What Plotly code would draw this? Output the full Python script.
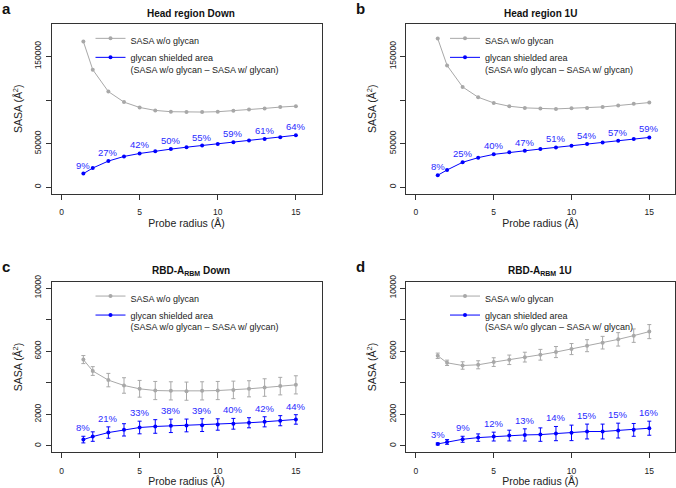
import plotly.graph_objects as go

# ---------------- data ----------------
radius = [1.4, 2, 3, 4, 5, 6, 7, 8, 9, 10, 11, 12, 13, 14, 15]
pct_radius = [1.4, 3, 5, 7, 9, 11, 13, 15]

a_nogly = [167100, 134800, 109700, 97600, 91500, 88100, 86600, 86200, 86200, 86600, 87700, 89200, 90400, 91900, 93000]
a_shield = [15600, 22000, 30000, 35300, 38700, 41400, 43700, 45900, 47800, 49700, 51600, 53500, 55400, 57300, 59600]
a_pct = ["9%", "27%", "42%", "50%", "55%", "59%", "61%", "64%"]

b_nogly = [170500, 139700, 115000, 103200, 96700, 92900, 91000, 90200, 89800, 90600, 91000, 92100, 93700, 95600, 97100]
b_shield = [13700, 19800, 28600, 33900, 37700, 40000, 41900, 43800, 45700, 47600, 49500, 51400, 53300, 55200, 57100]
b_pct = ["8%", "25%", "40%", "47%", "51%", "54%", "57%", "59%"]

c_nogly = [5470, 4745, 4170, 3830, 3620, 3510, 3490, 3470, 3490, 3510, 3550, 3620, 3700, 3790, 3870]
c_nogly_sd = [255, 277, 425, 490, 530, 575, 575, 575, 575, 575, 555, 510, 555, 555, 575]
c_shield = [405, 595, 850, 1020, 1170, 1235, 1275, 1300, 1320, 1360, 1405, 1470, 1530, 1600, 1680]
c_shield_sd = [210, 300, 360, 390, 400, 430, 425, 405, 405, 360, 340, 320, 320, 320, 300]
c_pct = ["8%", "21%", "33%", "38%", "39%", "40%", "42%", "44%"]

d_nogly = [5710, 5265, 5095, 5140, 5310, 5455, 5625, 5775, 5945, 6135, 6350, 6540, 6750, 6985, 7240]
d_nogly_sd = [170, 170, 235, 255, 275, 300, 310, 340, 350, 350, 380, 400, 425, 425, 445]
d_shield = [130, 255, 425, 530, 595, 660, 700, 720, 785, 830, 915, 915, 975, 1020, 1125]
d_shield_sd = [60, 150, 190, 235, 280, 340, 385, 425, 450, 490, 470, 470, 470, 405, 445]
d_pct = ["3%", "9%", "12%", "13%", "14%", "15%", "15%", "16%"]

titles = ["Head region Down", "Head region 1U", "RBD-A<sub>RBM</sub> Down", "RBD-A<sub>RBM</sub> 1U"]
letters = ["a", "b", "c", "d"]
head_ticks = [0, 50000, 150000]
head_minor = [100000]
rbd_ticks = [0, 2000, 6000, 10000]
rbd_minor = [4000, 8000]
x_ticks = [0, 5, 10, 15]

# ---------------- style ----------------
W, H = 676, 488
FONT = "Liberation Sans, Arial, sans-serif"
GRAY = "#a8a8a8"
BLUE = "#0000ff"
LABEL_BLUE = "#2a2aff"
AXC = "#333333"

# panel boxes in pixels: (left, right, top, bottom)
boxes = [(51.5, 321.5, 24, 193.5), (406, 674.8, 24, 193.5),
         (51.5, 321.5, 281.7, 452.3), (406, 674.8, 281.7, 452.3)]

panels = [
    (a_nogly, None, a_shield, None, a_pct, head_ticks, head_minor, [-7200, 187200]),
    (b_nogly, None, b_shield, None, b_pct, head_ticks, head_minor, [-7200, 187200]),
    (c_nogly, c_nogly_sd, c_shield, c_shield_sd, c_pct, rbd_ticks, rbd_minor, [-400, 10400]),
    (d_nogly, d_nogly_sd, d_shield, d_shield_sd, d_pct, rbd_ticks, rbd_minor, [-400, 10400]),
]

fig = go.Figure()
annotations = []
layout = {}

for i, (nog, nog_sd, sh, sh_sd, pct, yt, ym, yr) in enumerate(panels):
    n = "" if i == 0 else str(i + 1)
    xa, ya = "x" + n, "y" + n
    lg = "legend" + n
    L, R, T, B = boxes[i]

    def err(sd, color):
        if sd is None:
            return None
        return dict(type="data", array=sd, visible=True, color=color, thickness=1, width=2)

    fig.add_trace(go.Scatter(
        x=radius, y=nog, mode="lines+markers", name="SASA w/o glycan",
        line=dict(color=GRAY, width=1), marker=dict(color=GRAY, size=4),
        error_y=err(nog_sd, GRAY), xaxis=xa, yaxis=ya, legend=lg))
    fig.add_trace(go.Scatter(
        x=radius, y=sh, mode="lines+markers",
        name="glycan shielded area<br>(SASA w/o glycan \u2013 SASA w/ glycan)",
        line=dict(color=BLUE, width=1), marker=dict(color=BLUE, size=4),
        error_y=err(sh_sd, BLUE), xaxis=xa, yaxis=ya, legend=lg))

    axis_common = dict(showline=True, mirror=True, linecolor=AXC, linewidth=1,
                       ticks="outside", ticklen=5, tickcolor=AXC, tickwidth=1,
                       showgrid=False, zeroline=False,
                       tickfont=dict(family=FONT, size=8.5, color="#222"))
    layout["xaxis" + n] = dict(axis_common, domain=[L / W, R / W], range=[-0.64, 16.64],
                               tickvals=x_ticks, anchor=ya, ticklabelstandoff=5,
                               title=dict(text="Probe radius (\u00c5)", standoff=3,
                                          font=dict(family=FONT, size=10.5, color="#222")))
    layout["yaxis" + n] = dict(axis_common, domain=[1 - B / H, 1 - T / H], range=yr,
                               tickvals=yt, tickformat="d", tickangle=-90, anchor=xa,
                               ticklabelstandoff=1,
                               minor=dict(tickvals=ym, ticks="outside", ticklen=5,
                                          tickcolor=AXC, tickwidth=1, showgrid=False),
                               title=dict(text="SASA (\u00c5<sup>2</sup>)", standoff=8,
                                          font=dict(family=FONT, size=10.5, color="#222")))
    layout[lg] = dict(x=(L + 39) / W, y=1 - (T + 2) / H, xanchor="left", yanchor="top",
                      bgcolor="rgba(0,0,0,0)", borderwidth=0, valign="top",
                      tracegroupgap=0, font=dict(family=FONT, size=9, color="#222"))

    # percentage labels above the shielded-area points
    for px, txt in zip(pct_radius, pct):
        k = radius.index(px)
        ytop = sh[k] + (sh_sd[k] if sh_sd is not None else 0)
        annotations.append(dict(x=px, y=ytop, xref=xa, yref=ya, text=txt, showarrow=False,
                                xanchor="center", yanchor="bottom", yshift=1,
                                font=dict(family=FONT, size=9.5, color=LABEL_BLUE)))

    # panel title
    cx = (L + R) / 2 + (5 if i in (0, 2) else 0)
    annotations.append(dict(x=cx / W, y=1 - (T - 11) / H, xref="paper", yref="paper",
                            xanchor="center", yanchor="middle",
                            text="<b>" + titles[i] + "</b>", showarrow=False,
                            font=dict(family=FONT, size=10, color="#111")))
    # panel letter
    lx = 0 if i in (0, 2) else 354
    annotations.append(dict(x=lx / W, y=1 - (T - 15) / H, xref="paper", yref="paper",
                            xanchor="left", yanchor="middle",
                            text="<b>" + letters[i] + "</b>", showarrow=False,
                            font=dict(family=FONT, size=15, color="#111")))

fig.update_layout(width=W, height=H, margin=dict(l=0, r=0, t=0, b=0, autoexpand=False),
                  paper_bgcolor="white", plot_bgcolor="white",
                  annotations=annotations, **layout)

fig.write_html("out.html", config={"displayModeBar": False},
               post_script="document.body.style.margin='0';document.body.style.overflow='hidden';")
